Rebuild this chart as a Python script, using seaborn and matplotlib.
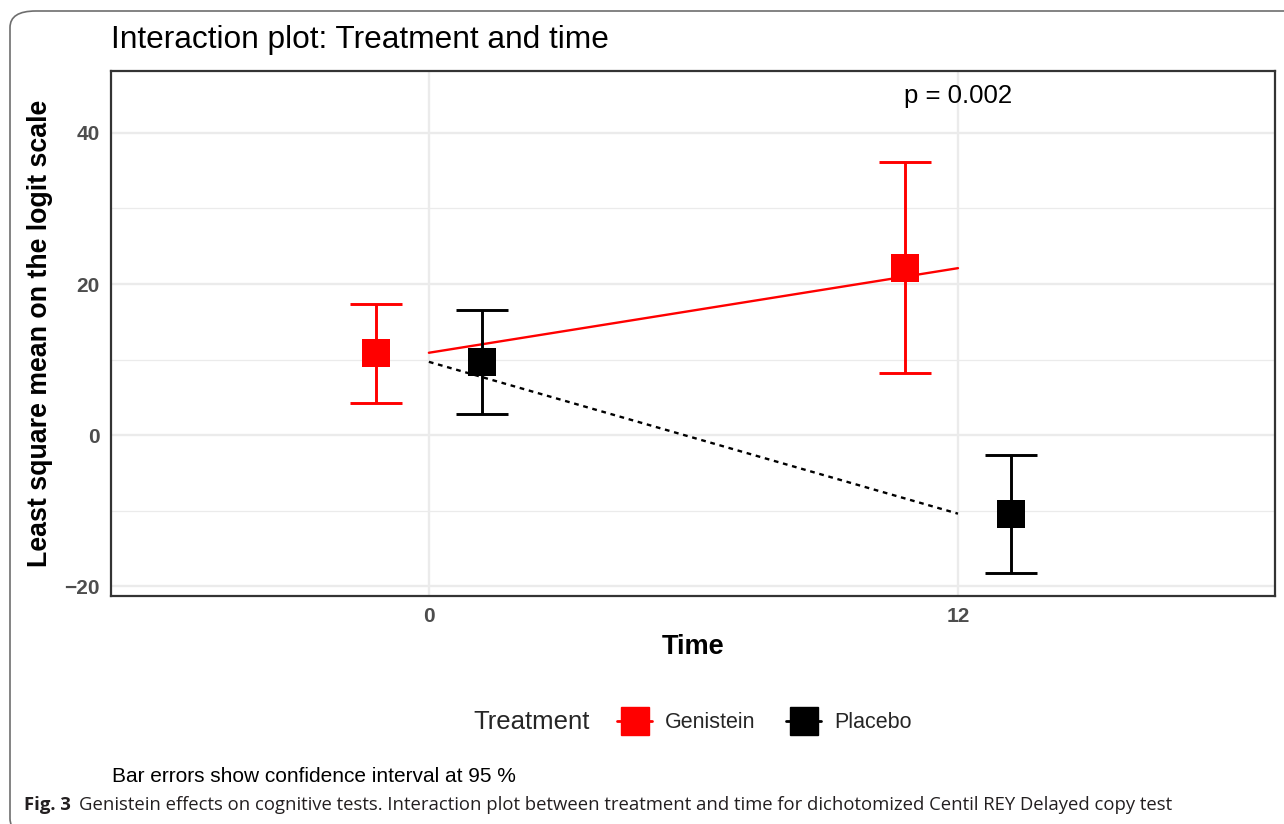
import matplotlib
matplotlib.use("Agg")
import matplotlib.pyplot as plt
from matplotlib.lines import Line2D
from matplotlib.patches import FancyBboxPatch
import seaborn as sns
import pandas as pd
import numpy as np

# ---------------- data ----------------
treatments = ["Genistein", "Placebo"]
time_points = [0, 12]
genistein_mean = [10.9, 22.1]
genistein_low = [4.3, 8.2]
genistein_high = [17.4, 36.1]
placebo_mean = [9.7, -10.4]
placebo_low = [2.8, -18.2]
placebo_high = [16.6, -2.7]
y_ticks = [-20, 0, 20, 40]
x_ticks = [0, 12]
p_text = "p = 0.002"

rows = []
for tr, m, lo, hi in [("Genistein", genistein_mean, genistein_low, genistein_high),
                      ("Placebo", placebo_mean, placebo_low, placebo_high)]:
    for t, mv, l, h in zip(time_points, m, lo, hi):
        rows.append(dict(Treatment=tr, Time=t, mean=mv, low=l, high=h))
df = pd.DataFrame(rows)

colors = {"Genistein": "#FF0000", "Placebo": "#000000"}
dodge = {"Genistein": -1.2, "Placebo": 1.2}
df["xd"] = df["Time"] + df["Treatment"].map(dodge)

# ---------------- figure ----------------
sns.set_theme(style="white")
plt.rcParams["font.family"] = ["Liberation Sans", "DejaVu Sans"]

W, H = 1284, 824
fig = plt.figure(figsize=(W / 100, H / 100), dpi=100)
fig.patch.set_facecolor("white")

def fx(px):
    return px / W

def fy(py):
    return 1 - py / H

ax = fig.add_axes([fx(111), fy(596), fx(1275) - fx(111), fy(71) - fy(596)])

# grid
ax.set_axisbelow(True)
for v in [-10, 10, 30]:
    ax.axhline(v, color="#ebebeb", lw=0.9, zorder=0)
for v in y_ticks:
    ax.axhline(v, color="#ebebeb", lw=1.7, zorder=0)
for v in x_ticks:
    ax.axvline(v, color="#ebebeb", lw=1.7, zorder=0)

# interaction lines (undodged)
for tr, ls in [("Genistein", "-"), ("Placebo", (0, (2.0, 2.0)))]:
    sub = df[df["Treatment"] == tr]
    sns.lineplot(data=sub, x="Time", y="mean", ax=ax, color=colors[tr],
                 lw=1.7, linestyle=ls, legend=False, zorder=2, errorbar=None)

# error bars
for tr in treatments:
    sub = df[df["Treatment"] == tr]
    ax.errorbar(sub["xd"], sub["mean"],
                yerr=[sub["mean"] - sub["low"], sub["high"] - sub["mean"]],
                fmt="none", ecolor=colors[tr], elinewidth=2.1, capsize=19,
                capthick=2.1, zorder=3)

# points
sns.scatterplot(data=df, x="xd", y="mean", hue="Treatment", palette=colors,
                marker="s", s=400, linewidth=0, ax=ax, legend=False, zorder=4)

ax.set_xlim(-7.21, 19.19)
ax.set_ylim(-21.3, 48.2)
ax.set_xticks(x_ticks)
ax.set_yticks(y_ticks)
ax.set_yticklabels(["\u221220", "0", "20", "40"])
ax.tick_params(axis="both", length=5, width=1.3, color="#333333",
               labelcolor="#4d4d4d", labelsize=15, pad=3, direction="out")
for lab in ax.get_xticklabels() + ax.get_yticklabels():
    lab.set_fontweight("bold")
for s in ax.spines.values():
    s.set_color("#333333")
    s.set_linewidth(1.6)

ax.set_xlabel("Time", fontsize=19.5, fontweight="bold", color="black", labelpad=6)
ax.set_ylabel("Least square mean on the logit scale", fontsize=19.3,
              fontweight="bold", color="black", labelpad=8)

ax.text(12, 44.9, p_text, ha="center", va="center", fontsize=18.5, color="black")

# title
fig.text(fx(111), fy(40), "Interaction plot: Treatment and time", fontsize=22.8,
         ha="left", va="center", color="black")

# legend
fig.text(fx(473), fy(722), "Treatment", fontsize=18.5, ha="left", va="center")
handles = [Line2D([0], [0], color=colors[t], marker="s", markersize=20, lw=2)
           for t in treatments]
fig.legend(handles, treatments, loc="center left",
           bbox_to_anchor=(fx(598), fy(723)), ncol=2, frameon=False,
           fontsize=15.5, handlelength=1.6, handletextpad=0.6,
           columnspacing=1.45)

fig.text(fx(112), fy(777), "Bar errors show confidence interval at 95 %",
         fontsize=15, ha="left", va="center", color="black")

# journal caption
t1 = fig.text(fx(24), fy(805), "Fig. 3", fontsize=13.3, fontweight="bold",
              family=["Open Sans", "DejaVu Sans"], color="#231f20",
              ha="left", va="center")
fig.canvas.draw()
bb = t1.get_window_extent()
fig.text((bb.x1 + 8) / W, fy(805),
         "Genistein effects on cognitive tests. Interaction plot between treatment and time for dichotomized Centil REY Delayed copy test",
         fontsize=13.3, family=["Open Sans", "DejaVu Sans"], color="#231f20",
         ha="left", va="center")

# frame
frame = FancyBboxPatch((fx(10), fy(835)), fx(1400) - fx(10), fy(11) - fy(835),
                       boxstyle="round,pad=0,rounding_size=0.02",
                       transform=fig.transFigure, facecolor="none",
                       edgecolor="#6e6e6e", lw=1.2, zorder=-1)
fig.patches.append(frame)

fig.savefig("out.png", dpi=100, facecolor="white")
